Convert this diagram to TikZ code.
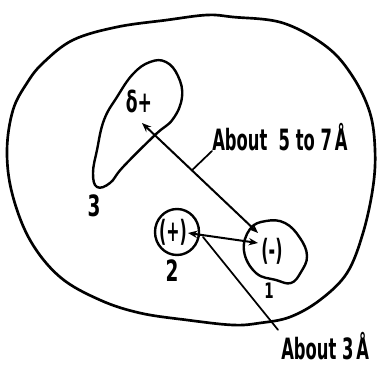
\documentclass[tikz,border=0pt]{standalone}
\usepackage{fontspec}
\usetikzlibrary{calc,arrows.meta}
\newfontfamily\letterfont{DejaVu Sans Condensed}
\begin{document}
\begin{tikzpicture}[x=0.75pt, y=-0.75pt, line join=round, line cap=round,
    outline/.style={line width=2pt},
    pocket/.style={line width=1.8pt},
    span/.style={line width=1.5pt, {Stealth[length=7pt,width=5.5pt]}-{Stealth[length=7pt,width=5.5pt]}},
    leader/.style={line width=1.3pt},
    lettering/.style={font=\letterfont\bfseries\fontsize{22}{22}\selectfont, inner sep=0pt}]

  \useasboundingbox (0,0) rectangle (377,366);

  %% ===== OUTER MOLECULE =====
  \draw[outline] plot[smooth cycle, tension=0.6] coordinates {
    (43,63) (73,40) (117,27) (167,20) (207,15) (233,17) (283,23) (327,47)
    (353,77) (370,113) (375,150) (373,187) (363,233) (347,273) (320,300)
    (290,317) (260,323) (233,325) (187,320) (140,313) (100,300) (60,277)
    (30,240) (12,193) (7,150) (13,110) (27,83)};

  %% ===== POCKETS =====
  % Pocket 3 (delta plus)
  \draw[pocket] plot[smooth cycle, tension=0.7] coordinates {
    (150,62) (166,62) (178,76) (182,97) (173,119) (155,135) (123,167)
    (110,183) (97,187) (93,173) (97,150) (104,120) (117,97) (133,74)};
  % Pocket 2 (plus)
  \draw[pocket] (177,232) ellipse[x radius=22, y radius=23];
  % Pocket 1 (minus)
  \draw[pocket] plot[smooth cycle, tension=0.7] coordinates {
    (250,229) (266,221) (285,223) (300,238) (307,256) (301,272)
    (291,283) (276,280) (256,273) (244,251)};

  % Charges
  \node[lettering] (dplus) at (139,101) {\scalebox{0.65}[1]{δ+}};
  \node[lettering] (plus) at (173,232) {\scalebox{0.6}[1]{(+)}};
  \node[lettering] (minus) at (272,251) {\scalebox{0.6}[1]{(-)}};

  % Pocket labels
  \node[lettering] (lab3) at (94,206) {\scalebox{0.7}[1]{3}};
  \node[lettering] (lab2) at (172,271) {\scalebox{0.7}[1]{2}};
  \node[lettering, font=\letterfont\bfseries\fontsize{16}{16}\selectfont] (lab1) at (269,291) {\scalebox{0.7}[1]{1}};

  %% ===== DISTANCES =====
  \coordinate (end3) at ([shift={(3,22)}]dplus.center);
  \coordinate (end1) at ([shift={(-14,-18)}]minus.center);
  \draw[span] (end1) -- (end3);
  \draw[span] ([shift={(15,1)}]plus.center) -- ([shift={(-14,-8)}]minus.center);

  % Distance labels
  \node[lettering, anchor=south west] (far) at (212,151)
    {\scalebox{0.62}[1]{About\ \ 5 to 7\,Å}};
  \node[lettering, anchor=south west] (near) at (281,360)
    {\scalebox{0.62}[1]{About 3\,Å}};
  \draw[leader] ($(end1)!0.57!(end3)$) -- (far.south west);
  \draw[leader] ([shift={(30,5)}]plus.center) -- ([shift={(-3,-2)}]near.north west);

\end{tikzpicture}
\end{document}
